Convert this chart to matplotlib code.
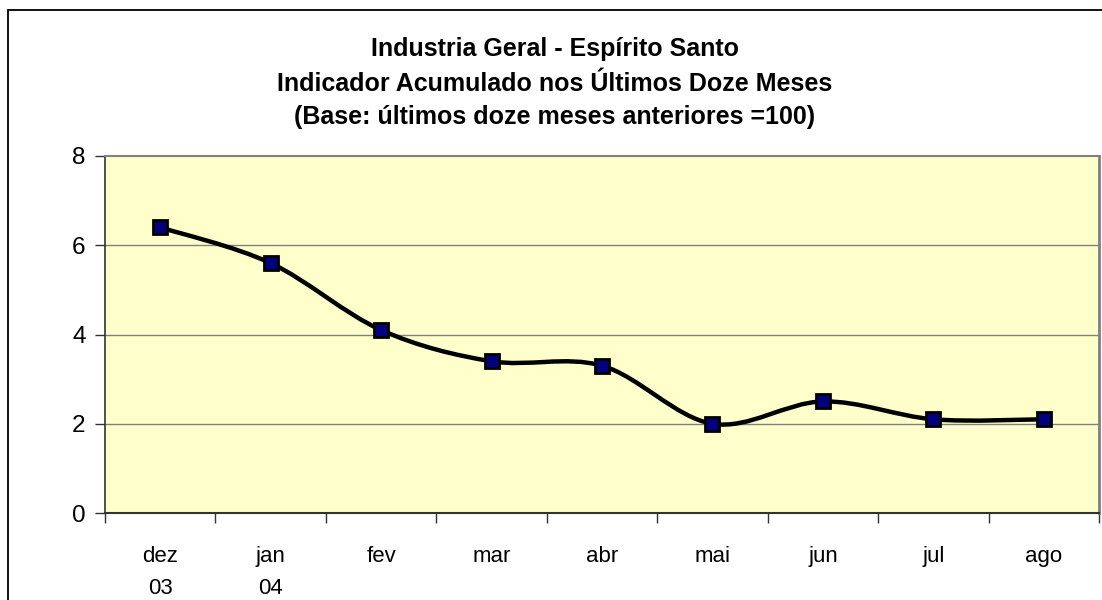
import numpy as np
import matplotlib
matplotlib.use("Agg")
import matplotlib.pyplot as plt
from matplotlib.path import Path
from matplotlib.patches import PathPatch, Rectangle

months = ["dez", "jan", "fev", "mar", "abr", "mai", "jun", "jul", "ago"]
years = ["03", "04", "", "", "", "", "", "", ""]
values = [6.4, 5.6, 4.1, 3.4, 3.3, 2.0, 2.5, 2.1, 2.1]
title_lines = ["Industria Geral - Espírito Santo",
               "Indicador Acumulado nos Últimos Doze Meses",
               "(Base: últimos doze meses anteriores =100)"]

plt.rcParams['font.family'] = ['Liberation Sans', 'DejaVu Sans']

W, H = 1102, 600
fig = plt.figure(figsize=(W / 100, H / 100), dpi=100)
fig.patch.set_facecolor("white")

# outer chart border
fig.patches.append(Rectangle((8 / W, -0.2), 1.2, 1.2 - 10 / H,
                             transform=fig.transFigure, fill=False,
                             edgecolor="black", linewidth=1.3, zorder=0))

left, right, top, bottom = 105, 1099, 156, 513
ax = fig.add_axes([left / W, 1 - bottom / H, (right - left) / W, (bottom - top) / H])
ax.set_facecolor("#FFFFCC")

x = np.arange(len(values))
y = np.array(values, dtype=float)

# smoothed line (Bezier smoothing as in spreadsheet charts)
verts = [(x[0], y[0])]
codes = [Path.MOVETO]
n = len(x)
for i in range(n - 1):
    p0 = np.array([x[max(i - 1, 0)], y[max(i - 1, 0)]])
    p1 = np.array([x[i], y[i]])
    p2 = np.array([x[i + 1], y[i + 1]])
    p3 = np.array([x[min(i + 2, n - 1)], y[min(i + 2, n - 1)]])
    c1 = p1 + (p2 - p0) / 6.0
    c2 = p2 - (p3 - p1) / 6.0
    verts += [tuple(c1), tuple(c2), tuple(p2)]
    codes += [Path.CURVE4, Path.CURVE4, Path.CURVE4]
ax.add_patch(PathPatch(Path(verts, codes), facecolor="none", edgecolor="black",
                       linewidth=3.2, zorder=3, capstyle="round", joinstyle="round"))
ax.plot(x, y, linestyle="none", marker="s", markersize=9.5,
        markerfacecolor="#000080", markeredgecolor="black", markeredgewidth=2.0, zorder=4)

ax.set_xlim(-0.5, n - 0.5)
ax.set_ylim(0, 8)
ax.set_yticks([0, 2, 4, 6, 8])
ax.set_yticklabels(["0", "2", "4", "6", "8"], fontsize=17.5)
ax.set_xticks(np.arange(-0.5, n, 1.0))
ax.set_xticklabels([])
ax.tick_params(axis="both", direction="out", length=7, width=1, color="#333333")
ax.tick_params(axis="y", pad=7)

for gy in [2, 4, 6]:
    ax.axhline(gy, color="#808080", linewidth=1.0, zorder=1)

trans = matplotlib.transforms.blended_transform_factory(ax.transData, fig.transFigure)
for i, (m, yr) in enumerate(zip(months, years)):
    ax.text(i, 1 - 562 / H, m, ha="center", va="baseline", fontsize=16,
            transform=trans)
    if yr:
        ax.text(i, 1 - 594 / H, yr, ha="center", va="baseline", fontsize=16,
                transform=trans)

ax.spines["top"].set_color("#808080")
ax.spines["top"].set_linewidth(1.5)
ax.spines["right"].set_color("#808080")
ax.spines["right"].set_linewidth(2.0)
ax.spines["left"].set_color("#333333")
ax.spines["left"].set_linewidth(1.2)
ax.spines["bottom"].set_color("#333333")
ax.spines["bottom"].set_linewidth(1.5)

for t, ty in zip(title_lines, [56, 91, 124]):
    fig.text(555 / W, 1 - ty / H, t, ha="center", va="baseline",
             fontsize=18, fontweight="bold")

fig.savefig("out.png", dpi=100)
